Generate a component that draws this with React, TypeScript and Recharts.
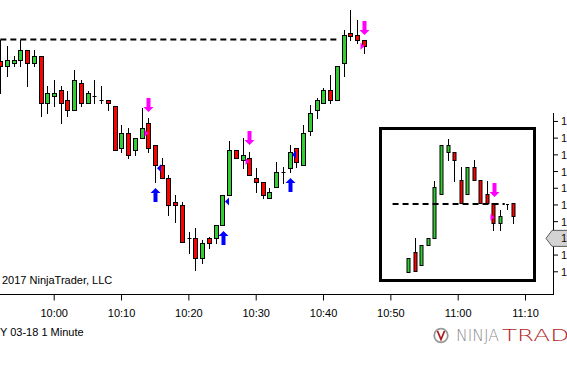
import React from 'react';
import { ComposedChart, Bar, Scatter, XAxis, YAxis, ReferenceLine } from 'recharts';

const FONT = "'Liberation Sans', Arial, sans-serif";
const GREEN = '#32cd32';
const RED = '#ff0000';
const MAGENTA = '#ff00ff';
const BLUE = '#0000ff';

// main 1 minute chart
const times = [
  '09:52', '09:53', '09:54', '09:55', '09:56', '09:57', '09:58', '09:59',
  '10:00', '10:01', '10:02', '10:03', '10:04', '10:05', '10:06', '10:07',
  '10:08', '10:09', '10:10', '10:11', '10:12', '10:13', '10:14', '10:15',
  '10:16', '10:17', '10:18', '10:19', '10:20', '10:21', '10:22', '10:23',
  '10:24', '10:25', '10:26', '10:27', '10:28', '10:29', '10:30', '10:31',
  '10:32', '10:33', '10:34', '10:35', '10:36', '10:37', '10:38', '10:39',
  '10:40', '10:41', '10:42', '10:43', '10:44', '10:45', '10:46',
];
const opens = [
  1552.6, 1552.3, 1552.5, 1552.7, 1553.3, 1552.5, 1552.9, 1550.1,
  1550.5, 1550.9, 1550.3, 1549.7, 1551.3, 1550.1, 1550.5, 1550.3,
  1550.3, 1549.9, 1547.4, 1548.3, 1547.3, 1548.0, 1548.9, 1547.6,
  1546.4, 1545.6, 1544.2, 1544.0, 1542.0, 1542.0, 1540.8, 1542.0,
  1542.0, 1542.8, 1544.6, 1547.3, 1546.7, 1546.8, 1545.6, 1545.4,
  1544.4, 1545.1, 1546.0, 1546.2, 1547.4, 1546.4, 1548.4, 1549.7,
  1550.1, 1550.9, 1550.3, 1552.5, 1554.3, 1554.2, 1553.9,
];
const highs = [
  1553.9, 1553.5, 1552.9, 1553.9, 1553.3, 1553.3, 1552.9, 1551.1,
  1551.5, 1551.1, 1550.8, 1552.1, 1551.5, 1550.8, 1551.5, 1551.1,
  1550.3, 1549.9, 1548.8, 1548.6, 1548.0, 1549.8, 1549.2, 1547.6,
  1546.8, 1545.8, 1544.6, 1544.2, 1542.4, 1542.6, 1541.9, 1542.1,
  1542.8, 1544.6, 1547.8, 1547.3, 1548.0, 1547.2, 1546.2, 1545.4,
  1545.0, 1546.6, 1546.3, 1547.6, 1547.4, 1548.8, 1550.0, 1550.4,
  1551.0, 1551.8, 1552.3, 1554.5, 1555.7, 1555.1, 1553.9,
];
const lows = [
  1550.7, 1551.7, 1552.3, 1552.3, 1551.1, 1552.3, 1549.3, 1549.5,
  1549.9, 1548.9, 1549.3, 1549.7, 1549.9, 1550.1, 1550.1, 1550.1,
  1549.7, 1547.3, 1547.2, 1546.8, 1547.0, 1548.0, 1547.2, 1545.4,
  1545.6, 1543.4, 1543.0, 1541.8, 1541.1, 1540.1, 1540.5, 1541.4,
  1541.7, 1542.8, 1544.6, 1546.8, 1546.2, 1545.8, 1544.8, 1544.4,
  1544.4, 1545.1, 1545.3, 1546.0, 1546.3, 1546.4, 1548.2, 1549.2,
  1550.1, 1550.1, 1550.3, 1551.7, 1553.9, 1553.7, 1553.1,
];
const closes = [
  1552.3, 1552.7, 1552.7, 1553.3, 1552.5, 1552.9, 1550.1, 1550.7,
  1550.7, 1550.1, 1549.7, 1551.5, 1550.1, 1550.7, 1550.5, 1550.3,
  1550.1, 1547.3, 1548.3, 1547.0, 1548.0, 1548.6, 1547.4, 1546.4,
  1545.6, 1544.0, 1544.0, 1541.8, 1542.0, 1540.8, 1541.7, 1541.7,
  1542.8, 1544.6, 1547.3, 1546.8, 1547.0, 1545.8, 1545.4, 1544.6,
  1544.8, 1546.0, 1546.0, 1547.2, 1546.6, 1548.3, 1549.5, 1550.3,
  1550.9, 1550.3, 1552.3, 1554.2, 1554.1, 1553.9, 1553.5,
];

const sellArrows = [
  { time: '10:14', price: 1550.0 },
  { time: '10:29', price: 1548.0 },
  { time: '10:46', price: 1554.6 },
];
const sellFlags = [
  { time: '10:14', price: 1548.3 },
  { time: '10:29', price: 1546.6 },
  { time: '10:46', price: 1553.5 },
];
const buyArrows = [
  { time: '10:15', price: 1544.6 },
  { time: '10:25', price: 1542.0 },
  { time: '10:35', price: 1545.2 },
];
const buyFlags = [
  { time: '10:15', price: 1546.2 },
  { time: '10:25', price: 1544.2 },
  { time: '10:35', price: 1547.0 },
];

const levelPrice = 1553.9;
const levelFrom = -8; // minutes from 10:00
const levelTo = 42.5;

const xTickLabels = ['10:00', '10:10', '10:20', '10:30', '10:40', '10:50', '11:00', '11:10'];
const priceTicks = [1540, 1541, 1542, 1543, 1544, 1545, 1546, 1547, 1548, 1549];
const markerPrice = 1542.0;

// inset chart
const insetOpens = [1548.2, 1549.9, 1548.8, 1550.5, 1551.1, 1554.7, 1558.2, 1558.2, 1555.9, 1554.7, 1557.0, 1555.9, 1554.7, 1554.0, 1552.3, 1553.9, 1554.0];
const insetHighs = [1549.4, 1551.1, 1550.5, 1551.1, 1555.8, 1558.8, 1559.3, 1558.2, 1557.0, 1557.0, 1557.6, 1555.9, 1555.8, 1554.0, 1553.4, 1553.9, 1554.0];
const insetLows = [1548.2, 1548.3, 1548.8, 1550.5, 1551.1, 1554.7, 1557.6, 1555.8, 1554.0, 1554.7, 1555.9, 1554.0, 1554.0, 1551.7, 1551.7, 1553.5, 1552.3];
const insetCloses = [1549.4, 1548.3, 1550.5, 1551.1, 1555.3, 1558.8, 1558.8, 1557.6, 1554.0, 1557.0, 1555.9, 1554.0, 1554.0, 1552.3, 1552.9, 1553.9, 1552.9];
const insetSellArrows = [{ i: 13, price: 1555.1 }];
const insetSellFlags = [{ i: 13, price: 1552.8 }];
const insetLevelFrom = -2.4;
const insetLevelTo = 14.7;

const toMin = (s: string) => {
  const [h, m] = s.split(':').map(Number);
  return (h - 10) * 60 + m;
};

const mainData = times.map((time, i) => ({
  t: toMin(time),
  open: opens[i],
  high: highs[i],
  low: lows[i],
  close: closes[i],
}));

const insetData = insetOpens.map((o, i) => ({
  i,
  open: o,
  high: insetHighs[i],
  low: insetLows[i],
  close: insetCloses[i],
}));

const range = (d: any) => [d.low, d.high];

function makeCandle(half: number) {
  return (props: any) => {
    const { x, y, width, height, payload } = props;
    if (!payload) return <g />;
    const c = Math.round(x + width / 2) + 0.5;
    const top = Math.min(y, y + height);
    const h = Math.abs(height);
    const { open, high, low, close } = payload;
    const span = high - low;
    const py = (v: number) => (span === 0 ? top : top + ((high - v) / span) * h);
    const yo = py(open);
    const yc = py(close);
    const bTop = Math.round(Math.min(yo, yc)) + 0.5;
    const bBot = Math.round(Math.max(yo, yc)) + 0.5;
    return (
      <g>
        <line x1={c} x2={c} y1={Math.round(top)} y2={Math.round(top + h) + 1} stroke="#000" strokeWidth={1} />
        {close === open ? (
          <line x1={c - half} x2={c + half} y1={bTop} y2={bTop} stroke="#000" strokeWidth={1} />
        ) : (
          <rect
            x={c - half}
            y={bTop}
            width={half * 2}
            height={Math.max(bBot - bTop, 1)}
            fill={close > open ? GREEN : RED}
            stroke="#000"
            strokeWidth={1}
          />
        )}
      </g>
    );
  };
}

const DownArrow = ({ cx, cy }: any) => {
  const x = Math.round(cx) + 0.5;
  const y = Math.round(cy);
  return <path d={`M${x - 2},${y - 7}H${x + 2}V${y + 2}H${x + 5}L${x},${y + 7}L${x - 5},${y + 2}H${x - 2}Z`} fill={MAGENTA} />;
};
const UpArrow = ({ cx, cy }: any) => {
  const x = Math.round(cx) + 0.5;
  const y = Math.round(cy);
  return <path d={`M${x - 2},${y + 7}V${y - 2}H${x - 5}L${x},${y - 7}L${x + 5},${y - 2}H${x + 2}V${y + 7}Z`} fill={BLUE} />;
};
const SellFlag = ({ cx, cy }: any) => {
  const x = Math.round(cx) + 0.5;
  return <path d={`M${x - 4},${cy - 3.5}L${x},${cy}L${x - 4},${cy + 3.5}Z`} fill={MAGENTA} />;
};
const BuyFlag = ({ cx, cy }: any) => {
  const x = Math.round(cx) + 0.5;
  return <path d={`M${x + 1.5},${cy}L${x + 5.5},${cy - 4}L${x + 5.5},${cy + 4}Z`} fill={BLUE} />;
};

const PriceTick = (props: any) => {
  const { x, y, payload } = props;
  const marker = payload.value === markerPrice;
  return (
    <g>
      {marker && (
        <path
          d={`M${x - 15},${y}L${x - 9},${y - 8}H${x + 12}V${y + 8}H${x - 9}Z`}
          fill="#d3d3d3"
          stroke="#5a5a5a"
          strokeWidth={1}
        />
      )}
      <text x={x} y={y} dy="0.36em" fontSize={11} fontFamily={FONT} fill="#1a0800">
        {payload.value.toFixed(1)}
      </text>
    </g>
  );
};

const fmtTime = (v: number) => xTickLabels.find((l) => toMin(l) === v) || '';

export default function App() {
  return (
    <div style={{ position: 'absolute', left: 0, top: 0, width: 567, height: 367, background: '#fff', overflow: 'hidden' }}>
      <div style={{ position: 'absolute', left: 553, top: 113, width: 1, height: 182, background: '#000' }} />
      <div style={{ position: 'absolute', left: 0, top: 0 }}>
        <ComposedChart width={567} height={367} data={mainData} margin={{ top: 0, right: 0, bottom: 0, left: 0 }}>
          <XAxis
            dataKey="t"
            type="number"
            domain={[-8.05, 74.08]}
            allowDataOverflow
            ticks={xTickLabels.map(toMin)}
            tickFormatter={fmtTime}
            height={72.5}
            tickSize={6}
            tickMargin={9}
            axisLine={{ stroke: '#000' }}
            tickLine={{ stroke: '#000' }}
            tick={{ fill: '#000', fontSize: 11, fontFamily: FONT }}
          />
          <YAxis
            orientation="right"
            width={14}
            domain={[1538.64, 1556.27]}
            allowDataOverflow
            ticks={priceTicks}
            tickSize={5}
            tickMargin={3}
            axisLine={false}
            tickLine={{ stroke: '#000' }}
            tick={<PriceTick />}
            interval={0}
          />
          <ReferenceLine
            segment={[{ x: levelFrom, y: levelPrice }, { x: levelTo, y: levelPrice }]}
            stroke="#000"
            strokeWidth={2}
            strokeDasharray="6 4"
            ifOverflow="visible"
          />
          <Bar dataKey={range} shape={makeCandle(2)} isAnimationActive={false} />
          <Scatter data={sellArrows.map((d) => ({ t: toMin(d.time), price: d.price }))} dataKey="price" shape={DownArrow} isAnimationActive={false} />
          <Scatter data={buyArrows.map((d) => ({ t: toMin(d.time), price: d.price }))} dataKey="price" shape={UpArrow} isAnimationActive={false} />
          <Scatter data={sellFlags.map((d) => ({ t: toMin(d.time), price: d.price }))} dataKey="price" shape={SellFlag} isAnimationActive={false} />
          <Scatter data={buyFlags.map((d) => ({ t: toMin(d.time), price: d.price }))} dataKey="price" shape={BuyFlag} isAnimationActive={false} />
        </ComposedChart>
      </div>
      <svg width={567} height={367} style={{ position: 'absolute', left: 0, top: 0, pointerEvents: 'none' }}>
        <text x={2} y={283.5} fontSize={11} fontFamily={FONT} fill="#000">2017 NinjaTrader, LLC</text>
        <text x={0} y={336} fontSize={11} fontFamily={FONT} fill="#000">Y 03-18 1 Minute</text>
        <circle cx={441} cy={335.5} r={6.8} fill="none" stroke="#9a9a9a" strokeWidth={1.8} />
        <path d="M437.5,331 L441,339.5 L444.5,331" fill="none" stroke="#b01e23" strokeWidth={1.8} />
        <text x={456} y={341} fontSize={15} fontFamily="'DejaVu Sans', sans-serif" fontWeight={200} fill="#8c8c8c" textLength={43} lengthAdjust="spacingAndGlyphs">NINJA</text>
        <text x={502} y={341} fontSize={15} fontFamily="'DejaVu Sans', sans-serif" fontWeight={200} fill="#b01e23" textLength={100} lengthAdjust="spacingAndGlyphs">TRADER</text>
      </svg>
      <div
        style={{
          position: 'absolute',
          left: 379,
          top: 127,
          width: 157,
          height: 155,
          boxSizing: 'border-box',
          border: '3px solid #000',
          background: '#fff',
        }}
      >
        <ComposedChart width={151} height={149} data={insetData} margin={{ top: 0, right: 0, bottom: 0, left: 0 }}>
          <XAxis dataKey="i" type="number" domain={[-4.01, 19.01]} allowDataOverflow hide />
          <YAxis domain={[1547.65, 1560.07]} allowDataOverflow hide />
          <Bar dataKey={range} shape={makeCandle(1.5)} isAnimationActive={false} />
          <ReferenceLine
            segment={[{ x: insetLevelFrom, y: levelPrice }, { x: insetLevelTo, y: levelPrice }]}
            stroke="#000"
            strokeWidth={2}
            strokeDasharray="6 4"
            ifOverflow="visible"
          />
          <Scatter data={insetSellArrows} dataKey="price" shape={DownArrow} isAnimationActive={false} />
          <Scatter data={insetSellFlags} dataKey="price" shape={SellFlag} isAnimationActive={false} />
        </ComposedChart>
      </div>
    </div>
  );
}
